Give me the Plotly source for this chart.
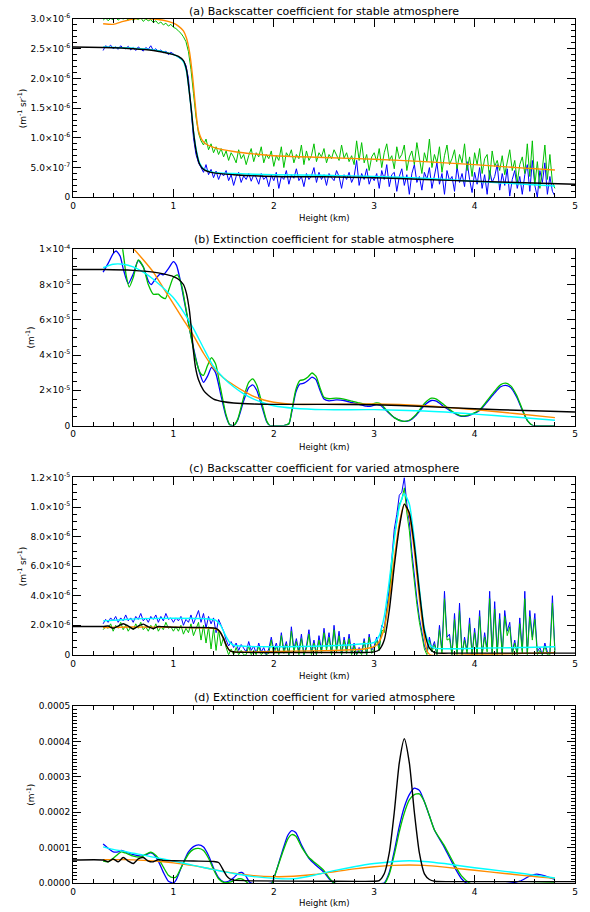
import numpy as np
import plotly.graph_objects as go

# ---------------- DATA ----------------
# noisy profiles sampled every 0.025 km from 0.3 to 4.8 km
h_noisy = np.linspace(0.3, 4.8, 181)

# (a) backscatter, stable atmosphere (units 1e-6 m-1 sr-1)
a_blue = [2.47, 2.55, 2.52, 2.56, 2.50, 2.53, 2.49, 2.55, 2.51,
          2.50, 2.54, 2.48, 2.52, 2.47, 2.53, 2.50, 2.46, 2.52, 2.49,
          2.55, 2.47, 2.50, 2.45, 2.48, 2.43, 2.46, 2.40, 2.44, 2.41,
          2.38, 2.36, 2.33, 2.30, 2.22, 2.00, 1.50, 1.00, 0.72, 0.58,
          0.50, 0.42, 0.55, 0.38, 0.47, 0.33, 0.44, 0.30, 0.41, 0.36,
          0.45, 0.28, 0.38, 0.20, 0.35, 0.42, 0.25, 0.36, 0.30, 0.40,
          0.27, 0.38, 0.33, 0.22, 0.40, 0.30, 0.35, 0.18, 0.37, 0.28,
          0.42, 0.15, 0.35, 0.30, 0.45, 0.22, 0.38, 0.32, 0.48, 0.28,
          0.35, 0.18, 0.40, 0.30, 0.36, 0.50, 0.25, 0.42, 0.30, 0.38,
          0.20, 0.40, 0.33, 0.28, 0.45, 0.35, 0.15, 0.38, 0.30, 0.42,
          0.25, 0.35, 0.62, 0.20, 0.40, 0.30, 0.48, 0.22, 0.35, 0.28,
          0.40, 0.15, 0.45, 0.30, 0.55, 0.18, 0.38, 0.42, 0.10, 0.35,
          0.48, 0.20, 0.38, 0.05, 0.40, 0.55, 0.25, 0.35, 0.12, 0.42,
          0.30, 0.50, 0.15, 0.38, 0.58, 0.22, 0.40, 0.05, 0.45, 0.28,
          0.35, 0.10, 0.52, 0.25, 0.40, 0.18, 0.60, 0.30, 0.08, 0.42,
          0.22, 0.50, 0.15, 0.38, 0.05, 0.45, 0.25, 0.35, 0.55, 0.12,
          0.40, 0.20, 0.48, 0.02, 0.30, 0.45, 0.15, 0.35, 0.05, 0.38,
          0.55, 0.10, 0.62, 0.20, 0.00, 0.45, 0.25, 0.58, 0.05, 0.35,
          0.10, 0.02]
a_green = [2.98, 3.02, 2.97, 3.01, 2.99, 3.03, 2.98, 3.02, 3.00,
           3.02, 2.98, 3.03, 2.97, 3.01, 2.99, 3.02, 2.96, 3.00, 2.97,
           2.99, 2.94, 2.97, 2.92, 2.95, 2.90, 2.93, 2.88, 2.91, 2.86,
           2.84, 2.80, 2.76, 2.70, 2.62, 2.45, 2.15, 1.75, 1.35, 1.08,
           0.95, 0.88, 0.98, 0.80, 0.90, 0.75, 0.85, 0.72, 0.82, 0.68,
           0.78, 0.62, 0.75, 0.68, 0.58, 0.80, 0.65, 0.72, 0.55, 0.70,
           0.82, 0.60, 0.75, 0.68, 0.85, 0.58, 0.72, 0.65, 0.78, 0.52,
           0.70, 0.62, 0.85, 0.50, 0.75, 0.68, 0.80, 0.58, 0.72, 0.65,
           0.88, 0.55, 0.78, 0.62, 0.70, 0.90, 0.60, 0.75, 0.68, 0.82,
           0.58, 0.72, 0.65, 0.80, 0.70, 0.62, 0.88, 0.66, 0.75, 0.60,
           0.70, 0.55, 0.95, 0.62, 0.92, 0.58, 0.72, 0.45, 0.68, 0.75,
           0.60, 0.82, 0.50, 0.75, 0.90, 0.62, 0.70, 0.48, 0.85, 0.65,
           0.72, 0.88, 0.45, 0.68, 0.78, 0.55, 0.92, 0.62, 0.40, 0.75,
           0.60, 0.98, 0.50, 0.72, 0.58, 0.85, 0.42, 0.70, 0.88, 0.55,
           0.65, 0.80, 0.48, 0.72, 0.58, 0.90, 0.45, 0.68, 0.35, 0.75,
           0.55, 0.82, 0.40, 0.65, 0.72, 0.30, 0.78, 0.52, 0.62, 0.45,
           0.70, 0.38, 0.58, 0.80, 0.45, 0.62, 0.25, 0.55, 0.68, 0.40,
           0.90, 0.35, 0.95, 0.20, 0.60, 0.15, 0.48, 0.88, 0.30, 0.72,
           0.25, 0.15]
a_black_h = [0.0, 0.3, 0.6, 0.8, 0.9, 1.0, 1.05, 1.1, 1.13, 1.16, 1.18, 1.2, 1.23, 1.26,
             1.3, 1.4, 1.6, 2.0, 2.5, 3.0, 3.5, 4.0, 4.5, 5.0]
a_black = [2.53, 2.52, 2.50, 2.47, 2.44, 2.40, 2.37, 2.30, 2.15, 1.75, 1.45, 1.10, 0.75, 0.56,
           0.47, 0.41, 0.38, 0.35, 0.345, 0.33, 0.30, 0.27, 0.245, 0.22]
a_cyan_h = [0.3, 0.6, 0.8, 0.9, 1.0, 1.05, 1.1, 1.13, 1.16, 1.18, 1.2, 1.23, 1.26, 1.3, 1.4,
            1.6, 2.0, 2.5, 3.0, 3.5, 4.0, 4.5, 4.8]
a_cyan = [2.53, 2.51, 2.48, 2.45, 2.40, 2.36, 2.28, 2.12, 1.75, 1.45, 1.12, 0.78, 0.58, 0.48, 0.42,
          0.40, 0.38, 0.37, 0.35, 0.32, 0.27, 0.22, 0.19]
a_orange_h = [0.3, 0.4, 0.5, 0.6, 0.7, 0.8, 0.9, 1.0, 1.05, 1.1, 1.13, 1.16, 1.19, 1.21, 1.23,
              1.25, 1.28, 1.32, 1.4, 1.6, 1.8, 2.0, 2.5, 3.0, 3.5, 4.0, 4.5, 4.8]
a_orange = [2.92, 2.91, 2.96, 3.00, 3.01, 3.00, 2.98, 2.93, 2.88, 2.80, 2.68, 2.45, 2.05, 1.70, 1.35,
            1.12, 0.98, 0.90, 0.84, 0.77, 0.73, 0.70, 0.67, 0.64, 0.60, 0.55, 0.49, 0.46]

# (b) extinction, stable atmosphere (units 1e-5 m-1)
b_blue_h = [0.3, 0.35, 0.4, 0.43, 0.47, 0.5, 0.55, 0.6, 0.65, 0.7, 0.75, 0.78, 0.82, 0.87, 0.9,
            0.95, 1.0, 1.03, 1.07, 1.1, 1.15, 1.2, 1.25, 1.3, 1.34, 1.38, 1.42, 1.47, 1.52, 1.56,
            1.6, 1.64, 1.7, 1.75, 1.79, 1.83, 1.88, 1.93, 1.96, 2.0, 2.1, 2.15, 2.18, 2.22, 2.26,
            2.3, 2.34, 2.38, 2.42, 2.46, 2.5, 2.55, 2.62, 2.7, 2.78, 2.85, 2.92, 2.97, 3.02, 3.06,
            3.12, 3.2, 3.28, 3.35, 3.42, 3.5, 3.57, 3.62, 3.7, 3.78, 3.85, 3.9, 3.98, 4.05, 4.12,
            4.2, 4.26, 4.31, 4.36, 4.42, 4.48, 4.53, 4.58, 4.65, 4.8]
b_blue = [8.7, 9.2, 9.75, 9.9, 9.6, 8.9, 8.05, 8.6, 9.35, 9.0, 8.2, 8.0, 8.3, 8.6, 8.55,
          8.9, 9.3, 9.1, 8.2, 7.3, 5.8, 4.4, 3.2, 2.45, 2.8, 3.3, 3.0, 1.8, 0.6, 0.05,
          0.0, 0.3, 1.4, 2.15, 2.3, 2.0, 1.1, 0.2, 0.0, 0.0, 0.0, 0.1, 0.8, 1.9, 2.35,
          2.4, 2.55, 2.75, 2.6, 2.0, 1.5, 1.4, 1.45, 1.42, 1.3, 1.2, 1.1, 1.1, 1.18, 1.15,
          0.85, 0.45, 0.25, 0.28, 0.6, 1.15, 1.42, 1.38, 1.05, 0.75, 0.55, 0.52, 0.65, 0.85, 1.3,
          1.85, 2.2, 2.28, 2.15, 1.6, 0.8, 0.25, 0.0, 0.0, 0.0]
b_green_h = [0.3, 0.4, 0.47, 0.5, 0.53, 0.56, 0.6, 0.65, 0.7, 0.75, 0.8, 0.85, 0.88, 0.92, 0.96,
             1.0, 1.04, 1.08, 1.12, 1.17, 1.22, 1.27, 1.3, 1.34, 1.38, 1.42, 1.47, 1.52, 1.56,
             1.6, 1.64, 1.7, 1.75, 1.79, 1.83, 1.88, 1.93, 1.96, 2.0, 2.1, 2.15, 2.18, 2.22, 2.26,
             2.3, 2.34, 2.38, 2.42, 2.46, 2.5, 2.55, 2.62, 2.7, 2.78, 2.85, 2.92, 2.97, 3.02, 3.06,
             3.12, 3.2, 3.28, 3.35, 3.42, 3.5, 3.57, 3.62, 3.7, 3.78, 3.85, 3.9, 3.98, 4.05, 4.12,
             4.2, 4.26, 4.31, 4.36, 4.42, 4.48, 4.53, 4.58, 4.65, 4.8]
b_green = [12.0, 11.5, 10.8, 9.8, 8.5, 7.85, 8.4, 9.4, 9.0, 8.0, 7.45, 7.45, 7.3, 7.2, 7.8,
           8.4, 8.55, 8.0, 6.8, 5.2, 3.8, 2.95, 2.85, 3.4, 3.85, 3.5, 2.1, 0.7, 0.05,
           0.0, 0.35, 1.6, 2.45, 2.65, 2.3, 1.3, 0.25, 0.0, 0.0, 0.0, 0.1, 0.9, 2.05, 2.55,
           2.6, 2.75, 2.98, 2.8, 2.15, 1.6, 1.52, 1.55, 1.5, 1.38, 1.28, 1.2, 1.2, 1.28, 1.25,
           0.9, 0.45, 0.25, 0.3, 0.65, 1.25, 1.55, 1.5, 1.15, 0.8, 0.58, 0.55, 0.68, 0.9, 1.38,
           1.95, 2.32, 2.4, 2.25, 1.7, 0.85, 0.25, 0.0, 0.0, 0.0]
b_black_h = [0.0, 0.3, 0.6, 0.8, 0.9, 1.0, 1.05, 1.1, 1.13, 1.16, 1.18, 1.2, 1.22, 1.25, 1.3,
             1.35, 1.4, 1.5, 1.6, 1.8, 2.0, 2.5, 3.0, 3.5, 4.0, 4.5, 5.0]
b_black = [8.85, 8.85, 8.8, 8.7, 8.6, 8.45, 8.3, 8.0, 7.5, 6.5, 5.4, 4.2, 3.3, 2.6, 2.0,
           1.7, 1.5, 1.35, 1.28, 1.22, 1.2, 1.2, 1.18, 1.08, 0.95, 0.85, 0.77]
b_cyan_h = [0.3, 0.4, 0.5, 0.6, 0.7, 0.8, 0.9, 1.0, 1.1, 1.2, 1.3, 1.4, 1.5, 1.6, 1.7, 1.8,
            1.9, 2.0, 2.2, 2.5, 3.0, 3.5, 4.0, 4.4, 4.8]
b_cyan = [8.95, 9.15, 9.15, 9.0, 8.7, 8.3, 7.8, 7.25, 6.45, 5.5, 4.4, 3.35, 2.7, 2.2, 1.8, 1.5,
          1.28, 1.12, 0.98, 0.9, 0.9, 0.82, 0.65, 0.48, 0.3]
b_orange_h = [0.3, 0.4, 0.5, 0.6, 0.7, 0.8, 0.9, 1.0, 1.1, 1.2, 1.3, 1.4, 1.5, 1.6, 1.7, 1.8,
              1.9, 2.0, 2.2, 2.5, 3.0, 3.5, 4.0, 4.4, 4.8]
b_orange = [12.0, 11.2, 10.6, 10.05, 9.4, 8.7, 7.8, 6.9, 6.0, 5.1, 4.1, 3.25, 2.7, 2.3, 1.95, 1.65,
            1.45, 1.32, 1.2, 1.2, 1.22, 1.12, 0.9, 0.68, 0.45]

# (c) backscatter, varied atmosphere (units 1e-6 m-1 sr-1)
c_blue = [2.1, 2.4, 2.2, 2.5, 2.3, 2.6, 2.2, 2.5, 2.3,
          2.7, 2.3, 2.5, 2.2, 2.6, 2.4, 2.8, 2.3, 2.5, 2.2,
          2.6, 2.4, 2.7, 2.2, 2.6, 2.3, 2.8, 2.4, 2.5, 2.2,
          2.5, 2.3, 2.6, 2.0, 2.4, 2.2, 2.7, 2.1, 2.5, 3.0,
          2.2, 2.8, 1.8, 2.6, 2.1, 2.5, 1.5, 2.4, 2.0, 1.6,
          1.0, 0.6, 0.9, 0.5, 0.8, 0.3, 0.7, 0.4, 0.2, 0.9,
          0.3, 0.6, 0.1, 0.8, 0.2, 0.5, 0.0, 0.4, 1.2, 0.3,
          0.8, 0.1, 1.5, 0.3, 0.9, 0.0, 1.9, 0.4, 1.1, 0.2,
          1.4, 0.0, 0.6, 1.7, 0.2, 1.0, 0.0, 1.3, 0.3, 1.8,
          0.5, 1.5, 0.1, 2.0, 0.4, 1.6, 0.0, 1.2, 0.3, 1.4,
          0.1, 0.8, 0.0, 0.5, 0.2, 1.1, 0.0, 1.4, 0.3, 0.6,
          1.2, 0.5, 2.0, 1.8, 3.2, 4.5, 6.5, 8.5, 9.5, 10.8,
          11.0, 12.0, 10.2, 9.0, 7.0, 5.2, 3.8, 2.5, 1.5, 0.6,
          0.2, 1.2, 0.4, 0.9, 0.0, 2.0, 0.3, 4.3, 1.2, 1.4,
          0.0, 2.8, 0.2, 3.5, 0.0, 1.2, 0.3, 2.5, 0.0, 1.8,
          0.2, 3.0, 0.0, 1.5, 0.4, 4.3, 0.1, 3.6, 0.2, 2.8,
          0.0, 3.0, 1.6, 2.2, 0.2, 1.0, 0.0, 2.5, 0.3, 4.3,
          0.1, 3.0, 1.2, 2.8, 0.2, 0.5, 0.0, 0.8, 0.2, 0.1,
          4.0, 0.3]
c_green = [1.7, 1.9, 1.8, 2.1, 1.6, 2.0, 1.8, 2.2, 1.7,
           2.0, 1.6, 1.9, 1.7, 2.1, 1.8, 2.2, 1.7, 1.9, 1.6,
           2.0, 1.7, 2.1, 1.6, 1.9, 1.7, 2.2, 1.8, 1.9, 1.6,
           1.9, 1.6, 2.0, 1.4, 1.8, 1.5, 2.1, 1.3, 1.8, 2.2,
           1.0, 2.0, 0.8, 1.9, 0.4, 1.8, 0.3, 1.7, 0.6, 1.2,
           0.5, 0.0, 0.4, 0.0, 0.5, 0.0, 0.3, 0.0, 0.0, 0.6,
           0.0, 0.3, 0.0, 0.6, 0.0, 0.2, 0.0, 0.1, 1.0, 0.0,
           0.6, 0.0, 1.3, 0.1, 0.7, 0.0, 1.6, 0.2, 0.9, 0.0,
           1.1, 0.0, 0.4, 1.4, 0.0, 0.8, 0.0, 1.0, 0.1, 1.5,
           0.3, 1.2, 0.0, 1.7, 0.2, 1.3, 0.0, 1.0, 0.1, 1.1,
           0.0, 0.6, 0.0, 0.3, 0.0, 0.9, 0.0, 1.2, 0.1, 0.4,
           1.0, 0.3, 1.7, 1.5, 2.9, 4.0, 6.0, 8.0, 9.0, 10.2,
           10.5, 11.3, 9.6, 8.4, 6.5, 4.8, 3.4, 2.2, 1.2, 0.4,
           0.0, 1.0, 0.2, 0.7, 0.0, 1.7, 0.1, 3.8, 1.0, 1.1,
           0.0, 2.4, 0.0, 3.0, 0.0, 1.0, 0.1, 2.1, 0.0, 1.5,
           0.0, 2.6, 0.0, 1.2, 0.2, 3.8, 0.0, 3.1, 0.0, 2.4,
           0.0, 2.6, 1.3, 1.9, 0.0, 0.8, 0.0, 2.1, 0.1, 3.8,
           0.0, 2.6, 1.0, 2.4, 0.0, 0.3, 0.0, 0.6, 0.0, 0.0,
           3.5, 0.1]
c_black_h = [0.0, 0.3, 0.35, 0.4, 0.45, 0.5, 0.55, 0.6, 0.65, 0.7, 0.75, 0.8, 0.85, 0.9, 1.0,
             1.2, 1.35, 1.42, 1.46, 1.5, 1.53, 1.56, 1.6, 1.7, 2.0, 2.5, 2.9, 3.0, 3.05, 3.1,
             3.15, 3.2, 3.25, 3.3, 3.35, 3.4, 3.45, 3.5, 3.55, 3.6, 3.8, 4.5, 5.0]
c_black = [1.92, 1.92, 1.95, 1.80, 1.95, 2.10, 1.95, 1.75, 1.95, 2.08, 1.90, 1.78, 1.92, 1.90, 1.87,
           1.85, 1.84, 1.80, 1.60, 1.10, 0.60, 0.30, 0.20, 0.17, 0.16, 0.16, 0.16, 0.20, 0.35, 1.0,
           3.0, 6.0, 8.6, 10.2, 9.6, 7.4, 4.3, 1.6, 0.45, 0.15, 0.12, 0.12, 0.12]
c_orange_h = [0.3, 0.6, 1.0, 1.3, 1.42, 1.47, 1.5, 1.53, 1.56, 1.6, 1.8, 2.2, 2.6, 2.9, 3.0,
              3.05, 3.1, 3.15, 3.2, 3.25, 3.3, 3.35, 3.4, 3.45, 3.5, 3.53, 3.56, 4.0, 4.5, 4.8]
c_orange = [1.85, 1.88, 1.87, 1.83, 1.75, 1.50, 1.10, 0.60, 0.30, 0.20, 0.20, 0.25, 0.30, 0.40, 0.55,
            0.9, 1.8, 3.8, 6.5, 8.9, 10.2, 9.4, 7.0, 3.8, 1.2, 0.2, 0.0, 0.02, 0.10, 0.15]
c_cyan_h = [0.3, 0.5, 0.7, 1.0, 1.3, 1.42, 1.47, 1.52, 1.56, 1.6, 1.7, 2.0, 2.5, 2.9, 3.0,
            3.05, 3.1, 3.15, 3.2, 3.25, 3.3, 3.35, 3.4, 3.45, 3.5, 3.55, 3.6, 4.0, 4.5, 4.8]
c_cyan = [2.30, 2.38, 2.45, 2.48, 2.45, 2.35, 2.00, 1.30, 0.85, 0.65, 0.58, 0.55, 0.60, 0.75, 0.85,
          1.3, 2.6, 5.0, 7.8, 10.0, 10.9, 10.2, 7.8, 4.5, 1.8, 0.7, 0.45, 0.45, 0.50, 0.55]

# (d) extinction, varied atmosphere (units 1e-4 m-1)
d_black_h = [0.0, 0.3, 0.35, 0.4, 0.45, 0.5, 0.55, 0.6, 0.65, 0.7, 0.75, 0.8, 0.85, 0.9, 1.0,
             1.2, 1.4, 1.45, 1.5, 1.53, 1.56, 1.6, 1.8, 2.5, 3.0, 3.05, 3.1, 3.15, 3.2, 3.25,
             3.3, 3.35, 3.4, 3.45, 3.5, 3.55, 3.6, 4.0, 5.0]
d_black = [0.65, 0.65, 0.60, 0.68, 0.60, 0.72, 0.62, 0.55, 0.68, 0.72, 0.62, 0.60, 0.66, 0.64, 0.63,
           0.62, 0.61, 0.58, 0.35, 0.20, 0.12, 0.08, 0.06, 0.05, 0.05, 0.07, 0.26, 0.85, 2.0, 3.4,
           4.08, 3.4, 2.0, 0.85, 0.26, 0.10, 0.05, 0.04, 0.04]
d_cyan_h = [0.3, 0.4, 0.5, 0.6, 0.7, 0.8, 0.9, 1.0, 1.1, 1.2, 1.3, 1.4, 1.5, 1.6, 1.7, 1.8,
            2.0, 2.2, 2.4, 2.6, 2.8, 3.0, 3.2, 3.35, 3.5, 3.7, 4.0, 4.3, 4.5, 4.65, 4.8]
d_cyan = [1.02, 0.95, 0.90, 0.84, 0.79, 0.73, 0.68, 0.62, 0.56, 0.50, 0.44, 0.38, 0.32, 0.27, 0.22, 0.18,
          0.13, 0.12, 0.22, 0.35, 0.46, 0.55, 0.61, 0.63, 0.61, 0.55, 0.43, 0.33, 0.26, 0.20, 0.14]
d_orange_h = [0.3, 0.5, 0.7, 0.9, 1.0, 1.2, 1.4, 1.6, 1.8, 2.0, 2.2, 2.4, 2.6, 2.8, 3.0, 3.2,
              3.35, 3.5, 3.7, 4.0, 4.3, 4.5, 4.65, 4.8]
d_orange = [0.66, 0.66, 0.64, 0.60, 0.57, 0.49, 0.38, 0.28, 0.21, 0.18, 0.19, 0.24, 0.32, 0.40, 0.46, 0.50,
            0.51, 0.50, 0.45, 0.36, 0.27, 0.21, 0.17, 0.13]
d_blue_h = [0.3, 0.35, 0.4, 0.45, 0.48, 0.52, 0.6, 0.68, 0.73, 0.77, 0.8, 0.85, 0.9, 0.95, 1.0,
            1.03, 1.08, 1.15, 1.2, 1.25, 1.3, 1.35, 1.4, 1.45, 1.5, 1.55, 1.6, 1.65, 1.68, 1.72,
            1.76, 1.8, 1.9, 1.98, 2.02, 2.08, 2.14, 2.18, 2.22, 2.28, 2.35, 2.42, 2.5, 2.55, 2.6,
            2.8, 3.0, 3.1, 3.15, 3.2, 3.25, 3.3, 3.35, 3.4, 3.45, 3.5, 3.55, 3.6, 3.7, 3.8,
            3.87, 3.92, 4.0, 4.3, 4.45, 4.55, 4.62, 4.7, 4.8]
d_blue = [1.10, 0.98, 0.88, 0.88, 0.92, 0.88, 0.80, 0.76, 0.80, 0.85, 0.82, 0.62, 0.30, 0.05, 0.0,
          0.10, 0.45, 0.88, 1.03, 1.08, 1.02, 0.78, 0.42, 0.15, 0.03, 0.05, 0.15, 0.28, 0.30, 0.20,
          0.02, -0.02, -0.02, 0.0, 0.30, 0.85, 1.35, 1.48, 1.42, 1.05, 0.70, 0.50, 0.30, 0.12, 0.0,
          -0.02, -0.02, 0.0, 0.30, 0.90, 1.60, 2.15, 2.50, 2.68, 2.62, 2.30, 1.90, 1.50, 1.00, 0.45,
          0.12, 0.0, -0.02, -0.02, 0.05, 0.20, 0.25, 0.20, 0.10]
d_green_h = [0.3, 0.35, 0.4, 0.45, 0.48, 0.52, 0.6, 0.68, 0.73, 0.77, 0.8, 0.85, 0.9, 0.95, 1.0,
             1.03, 1.08, 1.15, 1.2, 1.25, 1.3, 1.35, 1.4, 1.45, 1.5, 1.55, 1.6, 1.65, 1.68, 1.72,
             1.76, 1.8, 1.9, 1.98, 2.02, 2.08, 2.14, 2.18, 2.22, 2.28, 2.35, 2.42, 2.5, 2.55, 2.6,
             2.8, 3.0, 3.1, 3.15, 3.2, 3.25, 3.3, 3.35, 3.4, 3.45, 3.5, 3.55, 3.6, 3.7, 3.8,
             3.87, 3.95, 4.0, 4.3, 4.5, 4.8]
d_green = [0.62, 0.60, 0.70, 0.82, 0.88, 0.85, 0.76, 0.74, 0.82, 0.87, 0.84, 0.70, 0.45, 0.22, 0.15,
           0.18, 0.45, 0.82, 0.95, 0.98, 0.92, 0.70, 0.38, 0.12, 0.02, 0.02, 0.06, 0.12, 0.12, 0.05,
           -0.05, -0.10, -0.10, -0.02, 0.30, 0.80, 1.25, 1.37, 1.32, 1.00, 0.72, 0.55, 0.35, 0.15, 0.0,
           -0.05, -0.05, -0.02, 0.25, 0.80, 1.45, 1.98, 2.35, 2.50, 2.52, 2.30, 1.90, 1.50, 1.05, 0.52,
           0.20, 0.0, -0.05, -0.05, -0.02, 0.0]

# axis ticks
x_ticks = [0, 1, 2, 3, 4, 5]
a_tickvals = [0, 0.5e-6, 1.0e-6, 1.5e-6, 2.0e-6, 2.5e-6, 3.0e-6]
a_ticktext = ["0", "5.0×10<sup>-7</sup>", "1.0×10<sup>-6</sup>", "1.5×10<sup>-6</sup>",
              "2.0×10<sup>-6</sup>", "2.5×10<sup>-6</sup>", "3.0×10<sup>-6</sup>"]
b_tickvals = [0, 2e-5, 4e-5, 6e-5, 8e-5, 1e-4]
b_ticktext = ["0", "2×10<sup>-5</sup>", "4×10<sup>-5</sup>", "6×10<sup>-5</sup>",
              "8×10<sup>-5</sup>", "1×10<sup>-4</sup>"]
c_tickvals = [0, 2e-6, 4e-6, 6e-6, 8e-6, 1.0e-5, 1.2e-5]
c_ticktext = ["0", "2.0×10<sup>-6</sup>", "4.0×10<sup>-6</sup>", "6.0×10<sup>-6</sup>",
              "8.0×10<sup>-6</sup>", "1.0×10<sup>-5</sup>", "1.2×10<sup>-5</sup>"]
d_tickvals = [0, 1e-4, 2e-4, 3e-4, 4e-4, 5e-4]
d_ticktext = ["0.0000", "0.0001", "0.0002", "0.0003", "0.0004", "0.0005"]

titles = ["(a) Backscatter coefficient for stable atmosphere",
          "(b) Extinction coefficient for stable atmosphere",
          "(c) Backscatter coefficient for varied atmosphere",
          "(d) Extinction coefficient for varied atmosphere"]
ytitles = ["(m<sup>-1</sup> sr<sup>-1</sup>)", "(m<sup>-1</sup>)",
           "(m<sup>-1</sup> sr<sup>-1</sup>)", "(m<sup>-1</sup>)"]

# ---------------- STYLE ----------------
BLUE = "#0000ff"
GREEN = "#00c000"
ORANGE = "#ff8c00"
CYAN = "#00ffff"
BLACK = "#000000"
FONT = "DejaVu Sans"

W, H = 590, 912
ML, MR, MT, MB = 73, 13, 18, 29
PH = H - MT - MB
PW = W - ML - MR


def py(pix):
    return (H - MB - pix) / PH


def px(pix):
    return (pix - ML) / PW


panels = [
    dict(top=18, bot=196.5, scale=1e-6, yr=[0, 3.0e-6], tv=a_tickvals, tt=a_ticktext, minor=1e-7,
         title_y=10, xt_y=217, yt_x=22),
    dict(top=248.5, bot=425, scale=1e-5, yr=[0, 1e-4], tv=b_tickvals, tt=b_ticktext, minor=5e-6,
         title_y=239, xt_y=446, yt_x=30),
    dict(top=477, bot=654.6, scale=1e-6, yr=[0, 1.2e-5], tv=c_tickvals, tt=c_ticktext, minor=5e-7,
         title_y=468, xt_y=676, yt_x=22),
    dict(top=706, bot=883, scale=1e-4, yr=[0, 5e-4], tv=d_tickvals, tt=d_ticktext, minor=1e-5,
         title_y=697, xt_y=903, yt_x=30),
]

series = [
    [(h_noisy, a_blue, BLUE, 1.0, "linear"), (h_noisy, a_green, GREEN, 1.0, "linear"),
     (a_orange_h, a_orange, ORANGE, 1.4, "spline"), (a_cyan_h, a_cyan, CYAN, 1.4, "spline"),
     (a_black_h, a_black, BLACK, 1.4, "spline")],
    [(b_blue_h, b_blue, BLUE, 1.3, "spline"), (b_green_h, b_green, GREEN, 1.3, "spline"),
     (b_orange_h, b_orange, ORANGE, 1.4, "spline"), (b_cyan_h, b_cyan, CYAN, 1.4, "spline"),
     (b_black_h, b_black, BLACK, 1.4, "spline")],
    [(h_noisy, c_blue, BLUE, 1.0, "linear"), (h_noisy, c_green, GREEN, 1.0, "linear"),
     (c_orange_h, c_orange, ORANGE, 1.4, "spline"), (c_cyan_h, c_cyan, CYAN, 1.4, "spline"),
     (c_black_h, c_black, BLACK, 1.4, "spline")],
    [(d_blue_h, d_blue, BLUE, 1.3, "spline"), (d_green_h, d_green, GREEN, 1.3, "spline"),
     (d_orange_h, d_orange, ORANGE, 1.4, "spline"), (d_cyan_h, d_cyan, CYAN, 1.4, "spline"),
     (d_black_h, d_black, BLACK, 1.4, "spline")],
]

fig = go.Figure()
annotations = []
for i, (p, sers) in enumerate(zip(panels, series)):
    n = "" if i == 0 else str(i + 1)
    for hx, vals, col, lw, shp in sers:
        fig.add_trace(go.Scatter(
            x=list(hx), y=np.array(vals) * p["scale"], mode="lines",
            line=dict(color=col, width=lw, shape=shp, smoothing=0.6),
            xaxis="x" + n, yaxis="y" + n, showlegend=False, hoverinfo="skip"))
    axis_common = dict(showline=True, linecolor="black", linewidth=1, mirror="ticks",
                       ticks="inside", tickcolor="black", ticklen=8, tickwidth=1,
                       showgrid=False, zeroline=False,
                       tickfont=dict(family=FONT, size=9, color="black"))
    fig.layout["xaxis" + n] = dict(
        axis_common, domain=[0, 1], range=[0, 5], anchor="y" + n,
        tickmode="array", tickvals=x_ticks, ticktext=[str(t) for t in x_ticks],
        minor=dict(ticks="inside", ticklen=4, tickcolor="black", dtick=0.2, tick0=0, showgrid=False))
    fig.layout["yaxis" + n] = dict(
        axis_common, domain=[py(p["bot"]), py(p["top"])], range=p["yr"], anchor="x" + n,
        tickmode="array", tickvals=p["tv"], ticktext=p["tt"],
        minor=dict(ticks="inside", ticklen=4, tickcolor="black", dtick=p["minor"], tick0=0,
                   showgrid=False))
    annotations.append(dict(text=titles[i], xref="paper", yref="paper", x=px(325), y=py(p["title_y"]),
                            showarrow=False, xanchor="center", yanchor="middle",
                            font=dict(family=FONT, size=11, color="black")))
    annotations.append(dict(text="Height (km)", xref="paper", yref="paper", x=px(325), y=py(p["xt_y"]),
                            showarrow=False, xanchor="center", yanchor="middle",
                            font=dict(family=FONT, size=8.5, color="black")))
    annotations.append(dict(text=ytitles[i], xref="paper", yref="paper", x=px(p["yt_x"]),
                            y=py((p["top"] + p["bot"]) / 2), textangle=-90,
                            showarrow=False, xanchor="center", yanchor="middle",
                            font=dict(family=FONT, size=9, color="black")))

fig.update_layout(width=W, height=H, margin=dict(l=ML, r=MR, t=MT, b=MB, pad=0),
                  plot_bgcolor="white", paper_bgcolor="white", annotations=annotations,
                  font=dict(family=FONT, color="black"))
fig.write_html("out.html")
